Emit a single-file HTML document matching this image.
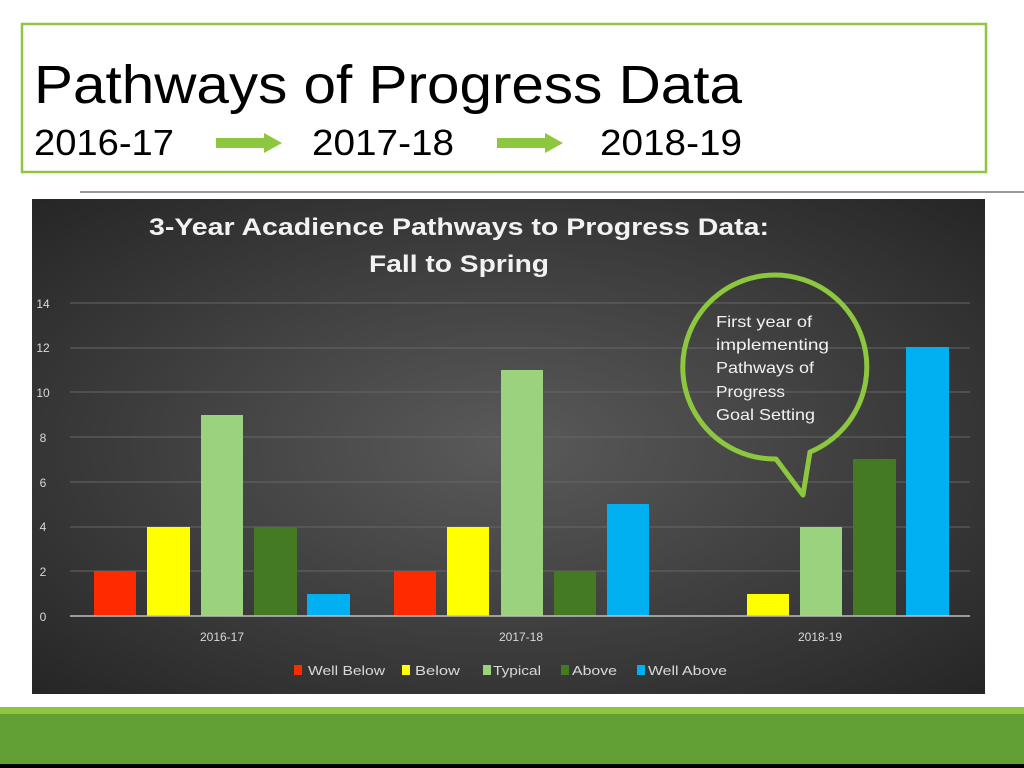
<!DOCTYPE html>
<html><head><meta charset="utf-8"><style>
html,body{margin:0;padding:0;background:#fff;}
svg{display:block;font-family:"Liberation Sans",sans-serif;}
</style></head><body>
<svg width="1024" height="768" viewBox="0 0 1024 768" xmlns="http://www.w3.org/2000/svg">
<defs>
<radialGradient id="bg" cx="0.5" cy="0.5" r="0.7">
<stop offset="0" stop-color="#5a5a5a"/><stop offset="1" stop-color="#262626"/>
</radialGradient>
</defs>
<rect width="1024" height="768" fill="#fff"/>
<rect x="22" y="24" width="964" height="148" fill="#fff" stroke="#8dc63f" stroke-width="2.5"/>
<text x="34" y="103" font-size="54" fill="#000" textLength="708" lengthAdjust="spacingAndGlyphs">Pathways of Progress Data</text>
<text x="34" y="155" font-size="36" fill="#000" textLength="140" lengthAdjust="spacingAndGlyphs">2016-17</text>
<text x="312" y="155" font-size="36" fill="#000" textLength="142" lengthAdjust="spacingAndGlyphs">2017-18</text>
<text x="600" y="155" font-size="36" fill="#000" textLength="142" lengthAdjust="spacingAndGlyphs">2018-19</text>
<polygon points="216,138 264,138 264,133 282,143 264,153 264,148 216,148" fill="#8dc63f"/>
<polygon points="497,138 545,138 545,133 563,143 545,153 545,148 497,148" fill="#8dc63f"/>
<rect x="80" y="191" width="944" height="2" fill="#999"/>
<rect x="32" y="199" width="953" height="495" fill="url(#bg)"/>
<text x="459" y="235" font-size="24" font-weight="bold" fill="#f2f2f2" text-anchor="middle" textLength="620" lengthAdjust="spacingAndGlyphs">3-Year Acadience Pathways to Progress Data:</text>
<text x="459" y="272" font-size="24" font-weight="bold" fill="#f2f2f2" text-anchor="middle" textLength="180" lengthAdjust="spacingAndGlyphs">Fall to Spring</text>
<g stroke="#666" stroke-width="1">
<line x1="70" y1="303" x2="970" y2="303"/><line x1="70" y1="348" x2="970" y2="348"/>
<line x1="70" y1="392" x2="970" y2="392"/><line x1="70" y1="437" x2="970" y2="437"/>
<line x1="70" y1="482" x2="970" y2="482"/><line x1="70" y1="527" x2="970" y2="527"/>
<line x1="70" y1="571" x2="970" y2="571"/>
</g>
<g font-size="12" fill="#d9d9d9" text-anchor="middle">
<text x="43" y="308">14</text><text x="43" y="352">12</text><text x="43" y="397">10</text>
<text x="43" y="442">8</text><text x="43" y="487">6</text><text x="43" y="531">4</text>
<text x="43" y="576">2</text><text x="43" y="621">0</text>
</g>
<g>
<rect x="94" y="571" width="42" height="45" fill="#ff2a00"/>
<rect x="147" y="527" width="43" height="89" fill="#ffff00"/>
<rect x="201" y="415" width="42" height="201" fill="#9bd27d"/>
<rect x="254" y="527" width="43" height="89" fill="#447a24"/>
<rect x="307" y="594" width="43" height="22" fill="#00b0f0"/>
<rect x="394" y="571" width="42" height="45" fill="#ff2a00"/>
<rect x="447" y="527" width="42" height="89" fill="#ffff00"/>
<rect x="501" y="370" width="42" height="246" fill="#9bd27d"/>
<rect x="554" y="571" width="42" height="45" fill="#447a24"/>
<rect x="607" y="504" width="42" height="112" fill="#00b0f0"/>
<rect x="747" y="594" width="42" height="22" fill="#ffff00"/>
<rect x="800" y="527" width="42" height="89" fill="#9bd27d"/>
<rect x="853" y="459" width="43" height="157" fill="#447a24"/>
<rect x="906" y="347" width="43" height="269" fill="#00b0f0"/>
</g>
<line x1="70" y1="616" x2="970" y2="616" stroke="#bfbfbf" stroke-width="1.5"/>
<g font-size="12" fill="#d9d9d9" text-anchor="middle">
<text x="222" y="641">2016-17</text><text x="521" y="641">2017-18</text><text x="820" y="641">2018-19</text>
</g>
<g font-size="13" fill="#d9d9d9">
<rect x="294" y="665" width="8" height="10" fill="#ff2a00"/><text x="308" y="675" textLength="77" lengthAdjust="spacingAndGlyphs">Well Below</text>
<rect x="402" y="665" width="8" height="10" fill="#ffff00"/><text x="415" y="675" textLength="45" lengthAdjust="spacingAndGlyphs">Below</text>
<rect x="483" y="665" width="8" height="10" fill="#9bd27d"/><text x="493" y="675" textLength="48" lengthAdjust="spacingAndGlyphs">Typical</text>
<rect x="561" y="665" width="8" height="10" fill="#447a24"/><text x="572" y="675" textLength="45" lengthAdjust="spacingAndGlyphs">Above</text>
<rect x="637" y="665" width="8" height="10" fill="#00b0f0"/><text x="648" y="675" textLength="79" lengthAdjust="spacingAndGlyphs">Well Above</text>
</g>
<path d="M776,459 A92,92 0 1 1 810,452 L803,495 Z" fill="none" stroke="#8dc63f" stroke-width="5" stroke-linejoin="round"/>
<g font-size="16" fill="#f2f2f2">
<text x="716" y="327" textLength="96" lengthAdjust="spacingAndGlyphs">First year of</text>
<text x="716" y="350" textLength="113" lengthAdjust="spacingAndGlyphs">implementing</text>
<text x="716" y="373" textLength="98" lengthAdjust="spacingAndGlyphs">Pathways of</text>
<text x="716" y="397" textLength="69" lengthAdjust="spacingAndGlyphs">Progress</text>
<text x="716" y="420" textLength="99" lengthAdjust="spacingAndGlyphs">Goal Setting</text>
</g>
<rect x="0" y="707" width="1024" height="8" fill="#8dc63f"/>
<rect x="0" y="714" width="1024" height="50" fill="#62a036"/>
<rect x="0" y="764" width="1024" height="4" fill="#000"/>
</svg>
</body></html>
